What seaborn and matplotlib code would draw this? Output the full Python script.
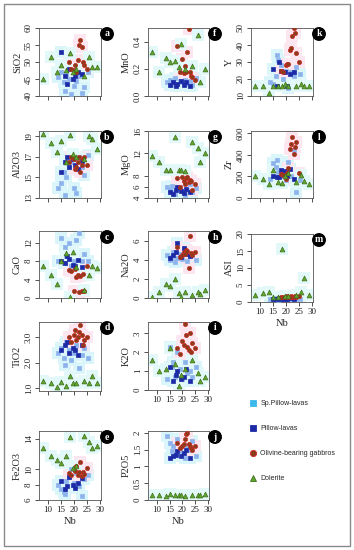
import pandas as pd
import matplotlib
matplotlib.use("Agg")
import matplotlib.pyplot as plt
from matplotlib.lines import Line2D
from matplotlib.patches import Rectangle
import seaborn as sns

# ---- data ----
sp_nb = [14, 15, 16, 16.5, 17, 18, 19, 20, 21, 22, 23, 24, 25.5]
sp = {
    "SiO2": [45.5, 47, 44, 41.5, 46.5, 45, 40.5, 43, 44.5, 46, 41, 42.5, 47],
    "MnO": [0.10, 0.12, 0.08, 0.10, 0.13, 0.09, 0.11, 0.10, 0.12, 0.09, 0.11, 0.08, 0.13],
    "Y": [18, 17, 22, 34, 31, 28, 20, 25, 15, 24, 22, 27, 23],
    "Al2O3": [14, 14.5, 15.5, 13.3, 15, 16, 16.5, 14, 13.5, 17, 16, 15.2, 17.2],
    "MgO": [6, 5.5, 6.2, 5, 4.8, 5.8, 6, 5.3, 4.6, 5.5, 6.5, 5, 5.8],
    "Zr": [180, 320, 290, 350, 240, 200, 230, 170, 330, 200, 440, 60, 170],
    "CaO": [8, 13, 7.5, 11, 9, 12, 7, 8, 12.5, 14, 8, 9.5, 8],
    "Na2O": [4.5, 4, 4.3, 4.8, 3.8, 4.2, 4.6, 4.1, 4.9, 3.9, 4.4, 4.5, 4],
    "ASI": [0.8, 1, 0.9, 1.1, 0.7, 1, 0.9, 1.2, 0.8, 1, 1.1, 0.9, 1],
    "TiO2": [2.4, 2.6, 2.2, 1.9, 2.8, 2.5, 2.1, 2.4, 2.7, 1.8, 2.3, 2.6, 2.2],
    "K2O": [0.6, 2.3, 1.2, 1.5, 0.7, 2.0, 1.1, 0.6, 1.5, 0.9, 1.0, 0.7, 1.2],
    "Fe2O3": [8, 7.5, 7, 6.8, 8.5, 9, 10, 8.2, 9.5, 7.8, 6.5, 8.8, 9.2],
    "P2O5": [1.9, 1.7, 1.45, 1.6, 1.35, 1.8, 1.5, 1.4, 1.25, 1.6, 1.5, 1.75, 1.3],
}

pl_nb = [15, 16.5, 17.5, 18, 19.5, 20.5, 21.5, 23]
pl = {
    "SiO2": [53, 46, 43.5, 48, 45, 46, 47, 46.5],
    "MnO": [0.08, 0.10, 0.07, 0.09, 0.11, 0.08, 0.10, 0.07],
    "Y": [26, 16, 30, 25, 24, 16, 23, 24],
    "Al2O3": [15.5, 16.5, 17, 16, 16.8, 16.2, 15.8, 16.6],
    "MgO": [5, 4.8, 5.5, 6, 5.2, 4.9, 5.6, 5.1],
    "Zr": [200, 195, 190, 260, 250, 200, 270, 180],
    "CaO": [8, 7.5, 9, 8.5, 7.2, 7, 8.3, 6.8],
    "Na2O": [4.2, 4.5, 4.8, 5.7, 4.3, 5.2, 4.6, 4.4],
    "ASI": [0.9, 1, 1.1, 0.8, 1, 0.9, 1.1, 1],
    "TiO2": [2.5, 2.7, 2.8, 2.4, 2.6, 2.5, 2.3, 2.7],
    "K2O": [1.2, 0.5, 0.8, 1.0, 0.6, 0.7, 1.1, 0.5],
    "Fe2O3": [8.5, 7.5, 7.8, 9, 8, 7.6, 8.2, 8.9],
    "P2O5": [1.25, 1.3, 1.35, 1.45, 1.3, 1.4, 1.5, 1.25],
}

gb_nb = [18, 19, 20, 20.5, 21, 21.5, 22, 22.5, 23, 23.5, 24, 25]
gb = {
    "SiO2": [50, 48, 47.5, 49, 47, 50.5, 55, 56.5, 54.5, 50, 49, 48],
    "MnO": [0.37, 0.18, 0.27, 0.17, 0.22, 0.18, 0.32, 0.49, 0.18, 0.15, 0.14, 0.12],
    "Y": [25, 24, 28, 29, 29, 37, 38, 45, 50, 47, 35, 30],
    "Al2O3": [16.5, 17, 16.8, 15.8, 16, 16.5, 17, 15.5, 16.2, 16.8, 17, 16.2],
    "MgO": [7.5, 6, 7.8, 7, 6.5, 7.5, 7.8, 6.8, 7.2, 7, 5.5, 6.5],
    "Zr": [220, 210, 180, 230, 280, 450, 500, 560, 410, 470, 520, 230],
    "CaO": [6, 5.8, 1.5, 6.2, 4.5, 5, 1.3, 4.8, 1.5, 5.2, 1.6, 7],
    "Na2O": [5.3, 4.3, 4.5, 4.8, 4.6, 5, 4.9, 3.1, 6.5, 4.7, 4.5, 4.8],
    "ASI": [1.5, 1.6, 1.5, 1.7, 1.4, 1.6, 1.8, 1.5, 1.6, 1.7, 1.5, 1.8],
    "TiO2": [3.0, 2.8, 3.1, 3.3, 2.9, 3.0, 3.2, 3.5, 3.1, 2.7, 2.9, 3.0],
    "K2O": [2.2, 1.9, 2.6, 2.4, 3.5, 2.9, 2.3, 2.1, 3.0, 2.0, 2.5, 2.2],
    "Fe2O3": [9.5, 9.2, 10, 9.8, 10.5, 9.3, 9.6, 11, 9.1, 9.7, 9.4, 10.2],
    "P2O5": [1.7, 1.55, 1.6, 1.65, 1.8, 1.95, 2.0, 1.65, 1.6, 1.55, 1.5, 1.6],
}

dl_nb = [8, 11, 13.5, 15, 17, 18.5, 19.5, 21, 24, 26, 27, 29]
dl = {
    "SiO2": [45, 51.5, 47, 49, 47.5, 52.5, 47, 48, 46, 51.5, 48.5, 48.5],
    "MnO": [0.32, 0.18, 0.28, 0.25, 0.26, 0.21, 0.38, 0.20, 0.22, 0.45, 0.10, 0.20],
    "Y": [16, 16, 12, 16, 16, 16, 17, 16, 16, 17, 16, 16],
    "Al2O3": [19.2, 18.3, 17.5, 18.5, 16.5, 19.1, 17.3, 17, 16.8, 19, 18.7, 17.8],
    "MgO": [11.5, 10.5, 9, 9, 15, 9, 9, 8.8, 14, 13, 10.5, 12],
    "Zr": [200, 180, 130, 260, 150, 140, 200, 230, 150, 210, 160, 130],
    "CaO": [7, 5, 3, 8, 9.8, 0.3, 10, 6.7, 1.8, 5, 7, 6.5],
    "Na2O": [0.1, 0.6, 1.5, 1.3, 2, 0.5, 0.1, 0.6, 0.3, 0.6, 0.4, 0.8],
    "ASI": [2.2, 2.7, 3, 1.5, 1.5, 15.5, 1.8, 1.8, 2, 2.8, 7, 2.2],
    "TiO2": [1.3, 1.2, 1.05, 1.25, 1.1, 1.5, 1.2, 1.2, 1.3, 1.2, 1.5, 1.2],
    "K2O": [1.6, 1.0, 1.1, 2.2, 1.4, 0.2, 0.8, 1.1, 1.6, 0.9, 0.5, 0.7],
    "Fe2O3": [12.8, 11.8, 11.2, 10.8, 11.7, 14.2, 10.2, 10.5, 14.4, 13.6, 12.8, 13],
    "P2O5": [0.15, 0.15, 0.12, 0.17, 0.15, 0.16, 0.15, 0.13, 0.15, 0.16, 0.15, 0.17],
}

groups = ["Sp.Pillow-lavas", "Pillow-lavas", "Olivine-bearing gabbros", "Dolerite"]

frames = []
for name, nb, vals in zip(groups, [sp_nb, pl_nb, gb_nb, dl_nb], [sp, pl, gb, dl]):
    d = pd.DataFrame(vals)
    d["Nb"] = nb
    d["Group"] = name
    frames.append(d)
df = pd.concat(frames, ignore_index=True)

style = {
    "Sp.Pillow-lavas": dict(marker="s", color="#8db3ec", edge="#8db3ec", s=9, halo="#dbf6fb"),
    "Pillow-lavas": dict(marker="s", color="#1c2aa6", edge="#1c2aa6", s=9, halo="#dbf6fb"),
    "Olivine-bearing gabbros": dict(marker="o", color="#8b3c1c", edge="#c8281e", s=9, halo="#fce6f0"),
    "Dolerite": dict(marker="^", color="#5fa62e", edge="#3f6e1c", s=12, halo="#e3f9f9"),
}

# (letter, element, label, x0, y0, x1, y1, ylim, yticks, yticklabels, xticklabels, xlabel)
panels = [
    ("a", "SiO2", "SiO2", 39, 28, 101, 96, (40, 60), [40, 45, 50, 55, 60], None, False, False),
    ("b", "Al2O3", "Al2O3", 39, 131, 101, 198, (13, 19.5), [13, 15, 17, 19], None, False, False),
    ("c", "CaO", "CaO", 39, 231, 101, 298, (0, 14.5), [0, 4, 8, 12], None, False, False),
    ("d", "TiO2", "TiO2", 39, 322, 101, 391, (0.9, 3.6), [1.0, 2.0, 3.0], ["1.0", "2.0", "3.0"], False, False),
    ("e", "Fe2O3", "Fe2O3", 39, 431, 101, 500, (6, 15), [6, 8, 10, 14], None, True, True),
    ("f", "MnO", "MnO", 148, 28, 209, 96, (0, 0.5), [0.0, 0.2, 0.4], ["0.0", "0.2", "0.4"], False, False),
    ("g", "MgO", "MgO", 148, 131, 209, 198, (4, 16), [4, 6, 8, 12, 16], None, False, False),
    ("h", "Na2O", "Na2O", 148, 231, 209, 298, (0, 7), [0, 2, 4, 6], None, False, False),
    ("i", "K2O", "K2O", 148, 322, 209, 390, (0, 3.6), [0, 1, 2, 3], None, True, False),
    ("j", "P2O5", "P2O5", 148, 431, 209, 500, (0, 2.05), [0, 0.5, 1, 1.5, 2], ["0", "0.5", "1", "1.5", "2"], True, True),
    ("k", "Y", "Y", 251, 28, 313, 96, (10, 50), [10, 20, 30, 40, 50], None, False, False),
    ("l", "Zr", "Zr", 251, 131, 313, 198, (0, 620), [0, 200, 400, 600], None, False, False),
    ("m", "ASI", "ASI", 251, 234, 313, 302, (0, 20), [0, 5, 10, 15, 20], None, True, True),
]

W, H = 354, 550
sns.set_style("ticks")
plt.rcParams["font.family"] = ["Liberation Serif", "DejaVu Serif"]
fig = plt.figure(figsize=(W / 100, H / 100), dpi=100)

fig.patches.append(Rectangle((4 / W, 4 / H), 346 / W, 542 / H, transform=fig.transFigure,
                             fill=False, edgecolor="#8a8a8a", linewidth=1.0))

for letter, col, lab, x0, y0, x1, y1, ylim, yt, ytl, showx, showxl in panels:
    ax = fig.add_axes([x0 / W, 1 - y1 / H, (x1 - x0) / W, (y1 - y0) / H])
    # pale halo behind each group
    for g in groups:
        st = style[g]
        sub = df[df["Group"] == g]
        ax.scatter(sub["Nb"], sub[col], marker="s", s=70, color=st["halo"], linewidths=0, zorder=0)
    for g in groups:
        st = style[g]
        sns.scatterplot(data=df[df["Group"] == g], x="Nb", y=col, ax=ax, marker=st["marker"],
                        color=st["color"], edgecolor=st["edge"], s=st["s"], linewidth=0.5,
                        legend=False, zorder=3)
    ax.set_xlim(6.5, 30.5)
    ax.set_ylim(*ylim)
    ax.set_xticks([10, 15, 20, 25, 30])
    ax.set_yticks(yt)
    if ytl:
        ax.set_yticklabels(ytl)
    ax.tick_params(axis="both", direction="out", length=3, width=0.6, labelsize=6.5,
                   pad=1.5, colors="#333333", labelcolor="#222222")
    for t in ax.get_yticklabels():
        t.set_rotation(90)
        t.set_va("center")
    if not showx:
        ax.set_xticklabels([])
    ax.set_xlabel("Nb" if showxl else "", fontsize=7.5, labelpad=2)
    ax.set_ylabel(lab, fontsize=7.5, labelpad=2)
    for sp_ in ax.spines.values():
        sp_.set_linewidth(0.6)
        sp_.set_color("#555555")
    ax.text(1 + 6 / (x1 - x0), 1 - 6 / (y1 - y0), letter, transform=ax.transAxes,
            ha="center", va="center", color="white", fontsize=7, fontweight="bold",
            bbox=dict(boxstyle="circle,pad=0.18", facecolor="black", edgecolor="black"))

handles = [Line2D([], [], linestyle="", marker=style[g]["marker"], markersize=4.5,
                  markerfacecolor=("#3cb8ea" if g == "Sp.Pillow-lavas" else style[g]["color"]),
                  markeredgecolor=("#3cb8ea" if g == "Sp.Pillow-lavas" else style[g]["edge"]),
                  markeredgewidth=0.6)
           for g in groups]
fig.legend(handles, groups, loc="upper left", bbox_to_anchor=(250 / W, 1 - 400 / H),
           frameon=False, borderpad=0, borderaxespad=0, handletextpad=0.6,
           labelspacing=2.6, handlelength=0.9,
           prop={"family": ["Liberation Sans", "DejaVu Sans"], "size": 5.0})

fig.savefig("out.png", dpi=100)
